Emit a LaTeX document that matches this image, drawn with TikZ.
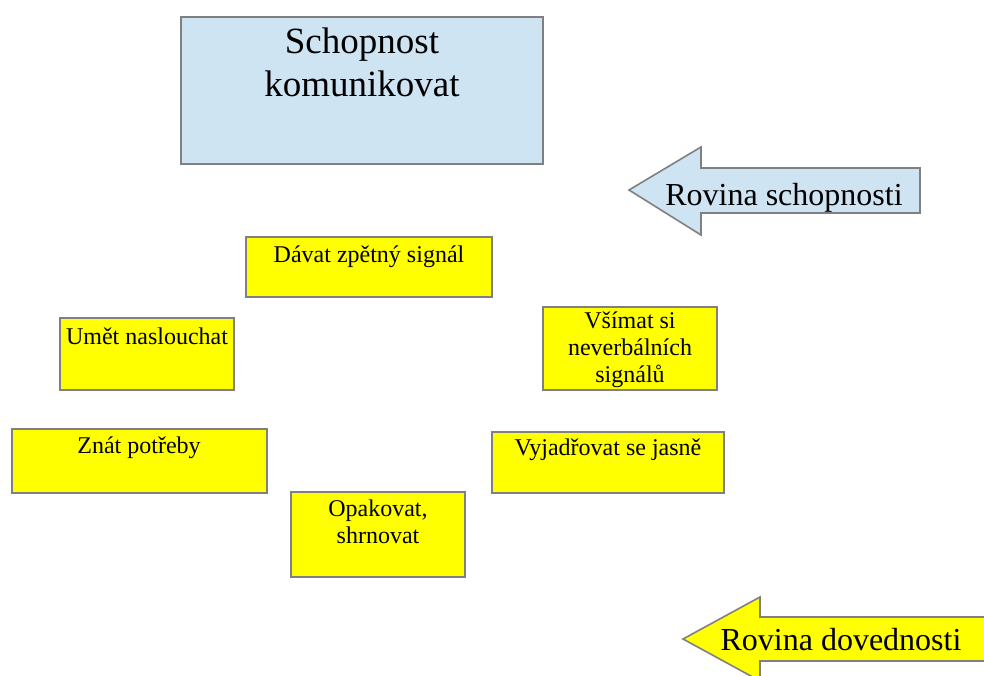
\documentclass[tikz,border=0pt]{standalone}
\usepackage{fontspec}
\setmainfont{Liberation Serif}
\usepackage{xcolor}
\usetikzlibrary{positioning}

\definecolor{boxgray}{RGB}{128,128,128}
\definecolor{boxblue}{RGB}{207,228,243}
\definecolor{boxyellow}{RGB}{255,255,0}

\begin{document}
\begin{tikzpicture}[x=1pt, y=-1pt,
	box/.style={draw=boxgray, line width=1.6pt, line join=miter},
	ybox/.style={box, fill=boxyellow},
	bbox/.style={box, fill=boxblue},
	small/.style={font=\fontsize{24}{27}\selectfont, align=center, anchor=base, inner sep=0pt},
	big/.style={font=\fontsize{37}{43}\selectfont, align=center, anchor=base, inner sep=0pt},
	arrowtxt/.style={font=\fontsize{32}{37}\selectfont, anchor=base, inner sep=0pt}]
		\useasboundingbox (0,0) rectangle (984,675);
		\clip (0,0) rectangle (984,675);
		% rovina schopnosti
		\draw[bbox] (181,17) rectangle (543,164);
		\node[big] (schopnost) at (362,96) {Schopnost\\komunikovat};
		\draw[bbox] (629,190) -- (701,147) -- (701,168) -- (920,168) -- (920,213) -- (701,213) -- (701,235) -- cycle;
		\node[arrowtxt] (rovS) at (784,205) {Rovina schopnosti};
		% rovina dovednosti
		\foreach \xa/\ya/\xb/\yb in {246/237/492/297, 60/318/234/390, 543/307/717/390,
			12/429/267/493, 492/432/724/493, 291/492/465/577}
		\draw[ybox] (\xa,\ya) rectangle (\xb,\yb);
		\node[small] (signal) at (369,262) {Dávat zpětný signál};
		\node[small] (naslouchat) at (147,344) {Umět naslouchat};
		\node[small] (neverbal) at (630,382) {Všímat si\\neverbálních\\signálů};
		\node[small] (potreby) at (139,453) {Znát potřeby};
		\node[small] (jasne) at (608,455) {Vyjadřovat se jasně};
		\node[small] (shrnovat) at (378,543) {Opakovat,\\shrnovat};
		\draw[ybox] (683,639) -- (760,597) -- (760,617) -- (1000,617) -- (1000,661) -- (760,661) -- (760,681) -- cycle;
		\node[arrowtxt] (rovD) at (841,650) {Rovina dovednosti};
	\end{tikzpicture}
\end{document}
